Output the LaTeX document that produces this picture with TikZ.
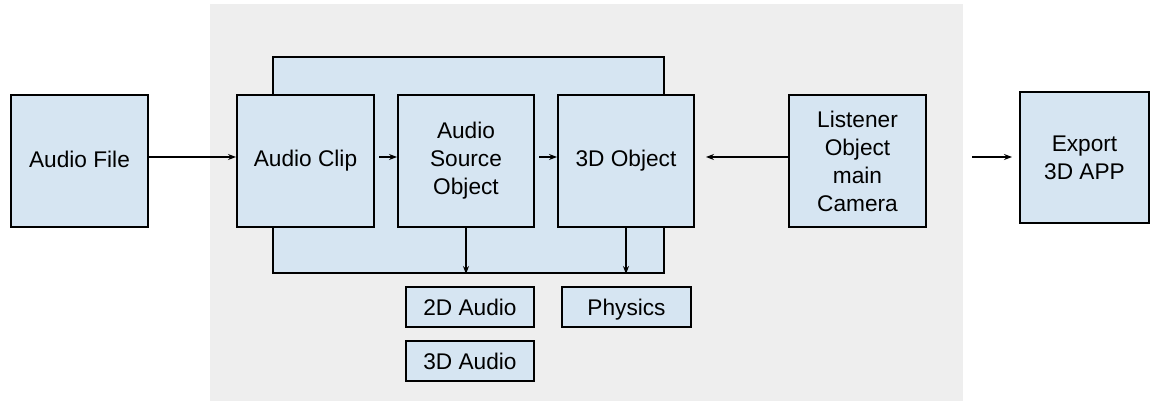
\documentclass[tikz,border=0pt]{standalone}
\usepackage{fontspec}
\setmainfont{Liberation Sans}
\usetikzlibrary{arrows.meta}
\definecolor{bgray}{HTML}{EEEEEE}
\definecolor{lblue}{HTML}{D6E5F2}
\tikzset{
  box/.style={draw=black, fill=lblue, line width=1.5pt, inner sep=0pt, align=center,
    font=\fontsize{17}{21}\selectfont},
  conn/.style={line width=0.9pt, -{Stealth[length=6pt,width=4.5pt]}},
}
\begin{document}
\begin{tikzpicture}[x=0.75pt,y=-0.75pt]
\useasboundingbox (0,0) rectangle (1150,402);
\fill[bgray] (210,4) rectangle (963,401);
\node[box, minimum width=391*0.75pt, minimum height=216*0.75pt] (cont) at (468.5,165) {};
\node[box, minimum width=137*0.75pt, minimum height=132*0.75pt] (file) at (79.5,161) {\raisebox{3pt}{Audio File}};
\node[box, minimum width=137*0.75pt, minimum height=132*0.75pt] (clip) at (305.5,161) {\raisebox{3pt}{Audio Clip}};
\node[box, minimum width=136*0.75pt, minimum height=132*0.75pt] (aso) at (466,161) {Audio\\Source\\Object};
\node[box, minimum width=136*0.75pt, minimum height=132*0.75pt] (obj) at (626,161) {\raisebox{3pt}{3D Object}};
\node[box, minimum width=137*0.75pt, minimum height=132*0.75pt] (lis) at (857.5,161) {Listener\\Object\\main\\Camera};
\node[box, minimum width=129*0.75pt, minimum height=131*0.75pt] (exp) at (1084.5,157.5) {Export\\3D APP};
\node[box, minimum width=128*0.75pt, minimum height=40*0.75pt] (a2) at (470,307) {2D Audio};
\node[box, minimum width=128*0.75pt, minimum height=40*0.75pt] (a3) at (470,361) {3D Audio};
\node[box, minimum width=129*0.75pt, minimum height=40*0.75pt] (phys) at (626.5,307) {\raisebox{0pt}[\height][0pt]{Physics}};
\coordinate (fa) at (972,157);
\coordinate (fb) at (1012,157);
\draw[conn] (file.east |- 0,157) -- (clip.west |- 0,157);
\draw[conn] (379,157) -- (aso.west |- 0,157);
\draw[conn] (539,157) -- (obj.west |- 0,157);
\draw[conn] (lis.west |- 0,157) -- (706,157);
\draw[conn] (fa) -- (fb);
\draw[conn] (aso.south) -- (aso.south |- cont.south);
\draw[conn] (obj.south) -- (obj.south |- cont.south);
\end{tikzpicture}
\end{document}
